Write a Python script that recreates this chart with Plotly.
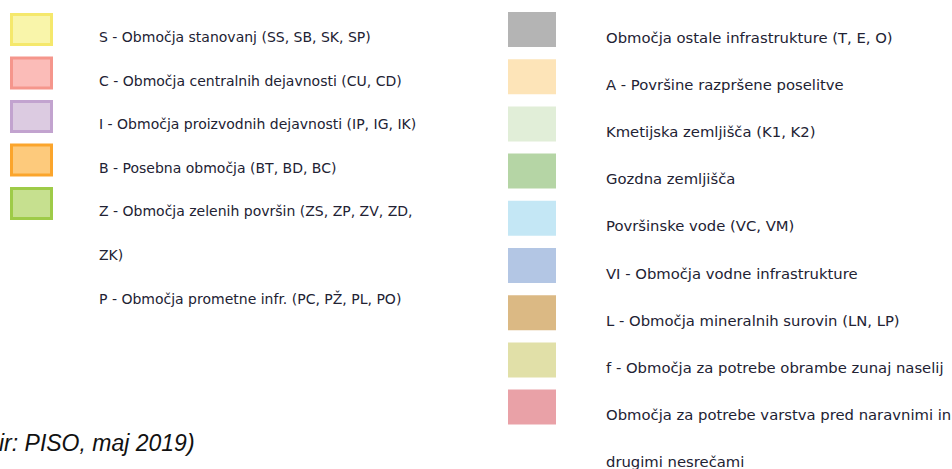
import plotly.graph_objects as go

# ---- data ----
left_labels = [
    "S - Območja stanovanj (SS, SB, SK, SP)",
    "C - Območja centralnih dejavnosti (CU, CD)",
    "I - Območja proizvodnih dejavnosti (IP, IG, IK)",
    "B - Posebna območja (BT, BD, BC)",
    "Z - Območja zelenih površin (ZS, ZP, ZV, ZD,",
]
left_extra = ["ZK)", "P - Območja prometne infr. (PC, PŽ, PL, PO)"]
left_fill = ["#f9f5aa", "#fbbcb8", "#dccbe1", "#fdca7c", "#c6e08f"]
left_line = ["#f5e86c", "#f5968c", "#c2a3cf", "#fba52c", "#9ecb48"]

right_labels = [
    "Območja ostale infrastrukture (T, E, O)",
    "A - Površine razpršene poselitve",
    "Kmetijska zemljišča (K1, K2)",
    "Gozdna zemljišča",
    "Površinske vode (VC, VM)",
    "VI - Območja vodne infrastrukture",
    "L - Območja mineralnih surovin (LN, LP)",
    "f - Območja za potrebe obrambe zunaj naselij",
    "Območja za potrebe varstva pred naravnimi in",
]
right_extra = ["drugimi nesrečami"]
right_fill = ["#b4b4b4", "#fde4b8", "#e1eed8", "#b5d5a5", "#c4e7f5",
              "#b3c6e4", "#dbb984", "#e1e0a8", "#e9a1a7"]

source_text = "ir: PISO, maj 2019)"

# ---- layout constants ----
W, H = 952, 469
TXT = "#222233"
FONT = "DejaVu Sans"
LSIZE = 14
RSIZE = 14.8

fig = go.Figure()
shapes = []
annotations = []

# left column
L_pitch = 43.5
for i, (lab, fc, lc) in enumerate(zip(left_labels, left_fill, left_line)):
    top = 13 + L_pitch * i
    shapes.append(dict(type="rect", xref="x", yref="y",
                       x0=11.5, x1=51.5, y0=top + 1.5, y1=top + 31.5,
                       fillcolor=fc, line=dict(color=lc, width=3)))
    annotations.append(dict(x=97, y=37 + L_pitch * i, text=lab, showarrow=False,
                            xanchor="left", yanchor="middle", xref="x", yref="y",
                            font=dict(family=FONT, size=LSIZE, color=TXT)))
for j, lab in enumerate(left_extra):
    annotations.append(dict(x=97, y=255 + 43 * j, text=lab, showarrow=False,
                            xanchor="left", yanchor="middle", xref="x", yref="y",
                            font=dict(family=FONT, size=LSIZE, color=TXT)))

# right column
R_pitch = 47.2
for i, (lab, fc) in enumerate(zip(right_labels, right_fill)):
    top = 12 + R_pitch * i
    shapes.append(dict(type="rect", xref="x", yref="y",
                       x0=508, x1=556, y0=top, y1=top + 35,
                       fillcolor=fc, line=dict(width=0)))
    annotations.append(dict(x=604, y=37 + R_pitch * i, text=lab, showarrow=False,
                            xanchor="left", yanchor="middle", xref="x", yref="y",
                            font=dict(family=FONT, size=RSIZE, color=TXT)))
for j, lab in enumerate(right_extra):
    annotations.append(dict(x=604, y=461, text=lab, showarrow=False,
                            xanchor="left", yanchor="middle", xref="x", yref="y",
                            font=dict(family=FONT, size=RSIZE, color=TXT)))

# source note
annotations.append(dict(x=0, y=443, xshift=-3, text="<i>" + source_text + "</i>",
                        showarrow=False, xanchor="left", yanchor="middle",
                        xref="paper", yref="y",
                        font=dict(family="Liberation Sans", size=23, color="#111111")))

fig.add_trace(go.Scatter(x=[0, W], y=[0, H], mode="markers",
                         marker=dict(opacity=0), hoverinfo="skip", showlegend=False))

fig.update_layout(
    width=W, height=H,
    margin=dict(l=0, r=0, t=0, b=0),
    paper_bgcolor="white", plot_bgcolor="white",
    xaxis=dict(range=[0, W], visible=False, fixedrange=True),
    yaxis=dict(range=[H, 0], visible=False, fixedrange=True),
    shapes=shapes, annotations=annotations, showlegend=False,
)

fig.write_html("out.html", config={"displayModeBar": False},
               post_script="document.body.style.margin='0';document.body.style.overflow='hidden';")
